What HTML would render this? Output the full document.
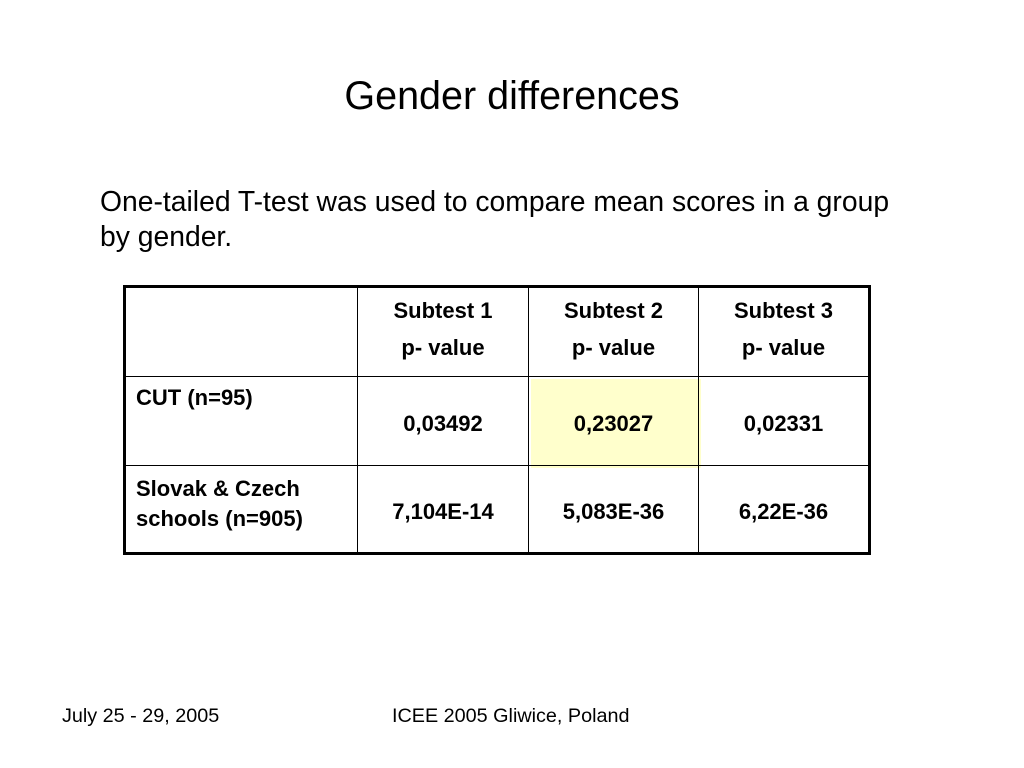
<!DOCTYPE html>
<html><head><meta charset="utf-8"><style>
body{margin:0;width:1024px;height:768px;background:#fff;position:relative;font-family:"Liberation Sans",sans-serif;color:#000;overflow:hidden}
.a{position:absolute;white-space:nowrap}
.t{position:absolute;font-weight:bold;font-size:22px;text-align:center;line-height:37px;white-space:nowrap}
.ln{position:absolute;background:#000}
</style></head><body>
<div class="a" style="left:0;width:1024px;text-align:center;top:74px;font-size:39.5px">Gender differences</div>
<div class="a" style="left:100px;top:184px;font-size:28.3px;line-height:35px">One-tailed T-test was used to compare mean scores in a group<br>by gender.</div>
<div style="position:absolute;left:123px;top:285px;width:742px;height:264px;border:3px solid #000">
<div style="position:absolute;left:405px;top:91px;width:170px;height:89px;background:#ffffcc"></div>
<div class="ln" style="left:231px;top:0;width:1px;height:264px"></div>
<div class="ln" style="left:402px;top:0;width:1px;height:264px"></div>
<div class="ln" style="left:572px;top:0;width:1px;height:264px"></div>
<div class="ln" style="left:0;top:88px;width:742px;height:1px"></div>
<div class="ln" style="left:0;top:177px;width:742px;height:1px"></div>
<div class="t" style="left:232px;width:170px;top:4px">Subtest 1<br>p- value</div>
<div class="t" style="left:403px;width:169px;top:4px">Subtest 2<br>p- value</div>
<div class="t" style="left:573px;width:169px;top:4px">Subtest 3<br>p- value</div>
<div class="t" style="left:10px;text-align:left;top:98px;line-height:24px">CUT (n=95)</div>
<div class="t" style="left:232px;width:170px;top:117px">0,03492</div>
<div class="t" style="left:403px;width:169px;top:117px">0,23027</div>
<div class="t" style="left:573px;width:169px;top:117px">0,02331</div>
<div class="t" style="left:10px;text-align:left;top:186px;line-height:30px">Slovak &amp; Czech<br>schools (n=905)</div>
<div class="t" style="left:232px;width:170px;top:205px">7,104E-14</div>
<div class="t" style="left:403px;width:169px;top:205px">5,083E-36</div>
<div class="t" style="left:573px;width:169px;top:205px">6,22E-36</div>
</div>
<div class="a" style="left:62px;top:705px;font-size:19.8px">July 25 - 29, 2005</div>
<div class="a" style="left:392px;top:705px;font-size:19.8px">ICEE 2005 Gliwice, Poland</div>
</body></html>
